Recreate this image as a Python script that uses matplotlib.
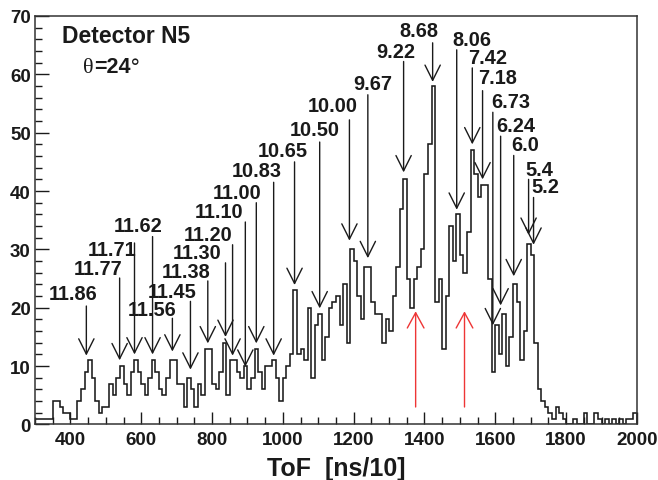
import matplotlib
matplotlib.use("Agg")
import matplotlib.pyplot as plt
import numpy as np
from matplotlib.ticker import MultipleLocator

plt.rcParams['font.family'] = ['Liberation Sans', 'DejaVu Sans']
plt.rcParams['font.weight'] = 'bold'

# ToF histogram, 10 ns/10 bins from 300 to 2000
bin_edges = np.arange(300, 2001, 10)
counts = [
    1, 1, 1, 1, 1, 4, 4, 3, 2, 2,          # 300-390
    1, 1, 4, 6, 9, 11, 8, 4, 2, 3,         # 400-490
    3, 7, 5, 8, 10, 7, 5, 9, 11, 9,        # 500-590
    7, 5, 8, 11, 9, 6, 5, 8, 11, 11,       # 600-690
    7, 7, 3, 8, 6, 3, 7, 5, 13, 13,        # 700-790
    7, 6, 9, 14, 5, 11, 11, 9, 8, 10,      # 800-890
    6, 8, 13, 9, 6, 10, 10, 11, 8, 4,      # 900-990
    8, 10, 12, 23, 12, 13, 11, 20, 8, 17,  # 1000-1090
    19, 11, 15, 20, 21, 22, 17, 24, 14, 30,  # 1100-1190
    28, 22, 18, 27, 27, 21, 19, 19, 14, 18,  # 1200-1290
    16, 22, 27, 37, 42, 25, 20, 25, 27, 30,  # 1300-1390
    43, 48, 58, 21, 25, 13, 22, 34, 28, 36,  # 1400-1490
    29, 26, 33, 47, 43, 39, 41, 41, 25, 9,   # 1500-1590
    17, 12, 19, 10, 15, 24, 21, 11, 16, 31,  # 1600-1690
    29, 14, 6, 4, 3, 2, 1, 3, 2, 1,          # 1700-1790
    0, 0, 1, 0, 0, 2, 0, 0, 2, 1,            # 1800-1890
    0, 1, 0, 1, 0, 1, 0, 1, 1, 2,            # 1900-1990
]

# peak labels: text, label centre (x, y), arrow x, arrow top y, arrow tip y
peak_labels = ['11.86', '11.77', '11.71', '11.62', '11.56', '11.45', '11.38',
               '11.30', '11.20', '11.10', '11.00', '10.83', '10.65', '10.50',
               '10.00', '9.67', '9.22', '8.68', '8.06', '7.42', '7.18',
               '6.73', '6.24', '6.0', '5.4', '5.2']
label_x = [408, 479, 519, 590, 632, 686, 728, 759, 790, 821, 872, 926, 999,
           1089, 1140, 1253, 1318, 1383, 1533, 1578, 1607, 1643, 1657, 1683,
           1725, 1742]
label_y = [22.5, 26.8, 29.9, 34.1, 19.7, 22.8, 26.3, 29.4, 32.5, 36.5, 39.7,
           43.5, 47.0, 50.6, 54.7, 58.5, 63.9, 67.5, 65.9, 62.8, 59.4, 55.4,
           51.3, 48.0, 43.7, 40.8]
arrow_x = [445, 539, 581, 632, 688, 739, 788, 838, 858, 894, 925, 974, 1033,
           1104, 1188, 1240, 1341, 1423, 1491, 1535, 1564, 1593, 1615, 1652,
           1694, 1708]
arrow_top = [20.3, 25.1, 31.1, 32.2, 18.2, 21.1, 24.6, 27.7, 30.8, 34.7, 38.0,
             41.5, 45.0, 48.4, 52.2, 56.5, 62.2, 65.4, 64.2, 61.1, 57.2, 53.5,
             49.4, 46.1, 42.0, 38.9]
arrow_tip = [11.8, 11.0, 12.0, 12.0, 12.5, 9.4, 13.9, 15.0, 11.8, 9.9, 13.9,
             11.8, 23.9, 19.9, 31.5, 28.5, 43.2, 58.7, 36.8, 48.0, 42.0, 17.0,
             20.4, 25.4, 32.5, 30.8]

# red upward arrows
red_x = [1375, 1513]
red_bottom = [3.0, 3.0]
red_tip = [19.4, 19.4]

fig = plt.figure(figsize=(6.58, 4.81), dpi=100)
ax = fig.add_axes([0.0532, 0.1154, 0.9148, 0.8493])

ink = '#1a1a1a'
ax.stairs(counts, bin_edges, color=ink, linewidth=1.15)

ax.set_xlim(300, 2000)
ax.set_ylim(0, 70)

ax.xaxis.set_major_locator(MultipleLocator(200))
ax.xaxis.set_minor_locator(MultipleLocator(50))
ax.yaxis.set_major_locator(MultipleLocator(10))
ax.yaxis.set_minor_locator(MultipleLocator(2))
ax.tick_params(which='both', direction='in', top=False, right=False,
               width=1.0, color=ink, labelsize=13.5, labelcolor=ink)
ax.tick_params(axis='x', which='major', length=9, pad=4.5)
ax.tick_params(axis='x', which='minor', length=5)
ax.tick_params(axis='y', which='major', length=10, pad=3)
ax.tick_params(axis='y', which='minor', length=5)
for lab in ax.get_xticklabels() + ax.get_yticklabels():
    lab.set_fontweight('bold')
for sp in ax.spines.values():
    sp.set_linewidth(1.1)
    sp.set_color('#333333')

ax.set_xlabel('ToF  [ns/10]', fontsize=18, fontweight='bold', color=ink,
              labelpad=6)

ax.text(0.045, 0.952, 'Detector N5', transform=ax.transAxes, fontsize=16.5,
        fontweight='bold', color=ink, ha='left', va='center')
# angle label: thin theta, bold "=24", thin degree sign
th = ax.text(0.080, 0.850, 'θ', transform=ax.transAxes, fontsize=16,
             fontweight='normal', family='Liberation Serif', color=ink,
             ha='left', va='bottom')
eq = ax.annotate('=24', xy=(1, 0), xycoords=th, fontsize=15.5,
                 fontweight='bold', color=ink, ha='left', va='bottom')
ax.annotate('°', xy=(1, 0), xycoords=eq, fontsize=15, fontweight='normal',
            family='DejaVu Sans', color=ink, ha='left', va='bottom')

for txt, lx, ly, axx, atop, atip in zip(peak_labels, label_x, label_y,
                                        arrow_x, arrow_top, arrow_tip):
    ax.text(lx, ly, txt, fontsize=14.4, fontweight='bold', color=ink,
            ha='center', va='center')
    ax.annotate('', xy=(axx, atip), xytext=(axx, atop),
                arrowprops=dict(arrowstyle='->,head_length=1.1,head_width=0.55',
                                color=ink, lw=1.0, shrinkA=0, shrinkB=0,
                                mutation_scale=10))

for rx, rb, rt in zip(red_x, red_bottom, red_tip):
    ax.annotate('', xy=(rx, rt), xytext=(rx, rb),
                arrowprops=dict(arrowstyle='->,head_length=1.1,head_width=0.6',
                                color='#ee3535', lw=1.0, shrinkA=0, shrinkB=0,
                                mutation_scale=10))

fig.savefig('out.png', dpi=100)
